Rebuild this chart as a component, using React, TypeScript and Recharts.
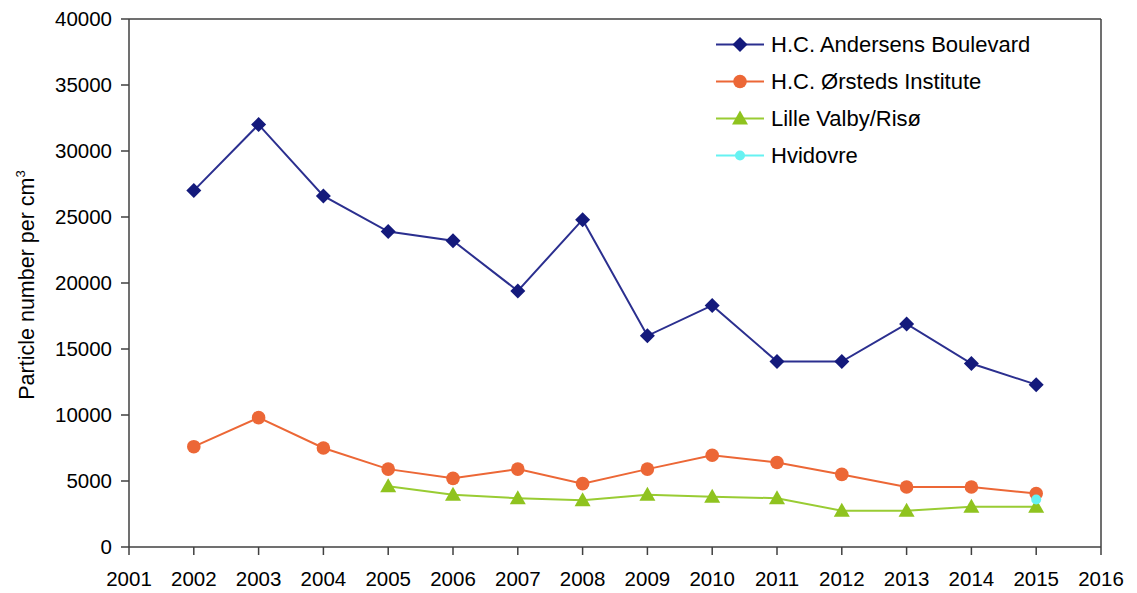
import React from "react";
import {
  Line,
  LineChart,
  ReferenceLine,
  XAxis,
  YAxis,
} from "recharts";

const years = [2002, 2003, 2004, 2005, 2006, 2007, 2008, 2009, 2010, 2011, 2012, 2013, 2014, 2015];

const andersens = [27000, 32000, 26600, 23900, 23200, 19400, 24800, 16000, 18300, 14050, 14050, 16900, 13900, 12300];
const orsteds = [7600, 9800, 7500, 5900, 5200, 5900, 4800, 5900, 6950, 6400, 5500, 4550, 4550, 4050];
const lilleValby = [null, null, null, 4600, 3950, 3700, 3550, 3950, 3800, 3700, 2750, 2750, 3050, 3050];
const hvidovre = [null, null, null, null, null, null, null, null, null, null, null, null, null, 3600];

const xTicks = [2001, 2002, 2003, 2004, 2005, 2006, 2007, 2008, 2009, 2010, 2011, 2012, 2013, 2014, 2015, 2016];
const yTicks = [0, 5000, 10000, 15000, 20000, 25000, 30000, 35000, 40000];

const data = years.map((year, i) => ({
  year,
  andersens: andersens[i],
  orsteds: orsteds[i],
  lilleValby: lilleValby[i],
  hvidovre: hvidovre[i],
}));

const FONT = '"Liberation Sans", Arial, Helvetica, sans-serif';
const AXIS = "#404040";

const BLUE_LINE = "#2b2f8f";
const BLUE_DOT = "#141a7c";
const ORANGE = "#ec6736";
const GREEN_LINE = "#99cc33";
const GREEN_DOT = "#8fc31f";
const CYAN = "#66f2f2";

type DotProps = { cx?: number; cy?: number; index?: number; value?: unknown };

const hasPoint = (p: DotProps) => p.cx != null && p.cy != null && p.value != null && !Number.isNaN(p.cy);

const Diamond = (p: DotProps) => {
  if (!hasPoint(p)) return <g key={`dm-${p.index}`} />;
  const { cx = 0, cy = 0 } = p;
  const r = 7.5;
  return (
    <polygon
      key={`dm-${p.index}`}
      points={`${cx},${cy - r} ${cx + r},${cy} ${cx},${cy + r} ${cx - r},${cy}`}
      fill={BLUE_DOT}
    />
  );
};

const Circle = (p: DotProps) => {
  if (!hasPoint(p)) return <g key={`ci-${p.index}`} />;
  return <circle key={`ci-${p.index}`} cx={p.cx} cy={p.cy} r={6.8} fill={ORANGE} />;
};

const Triangle = (p: DotProps) => {
  if (!hasPoint(p)) return <g key={`tr-${p.index}`} />;
  const { cx = 0, cy = 0 } = p;
  return (
    <polygon
      key={`tr-${p.index}`}
      points={`${cx},${cy - 8} ${cx + 8},${cy + 6} ${cx - 8},${cy + 6}`}
      fill={GREEN_DOT}
    />
  );
};

const SmallCircle = (p: DotProps) => {
  if (!hasPoint(p)) return <g key={`sc-${p.index}`} />;
  return <circle key={`sc-${p.index}`} cx={p.cx} cy={p.cy} r={5} fill={CYAN} />;
};

const legendItems = [
  { name: "H.C. Andersens Boulevard", color: BLUE_LINE, marker: "diamond" },
  { name: "H.C. Ørsteds Institute", color: ORANGE, marker: "circle" },
  { name: "Lille Valby/Risø", color: GREEN_LINE, marker: "triangle" },
  { name: "Hvidovre", color: CYAN, marker: "small" },
];

function LegendMarker({ marker }: { marker: string }) {
  if (marker === "diamond") return <polygon points="24,3 31.5,10.5 24,18 16.5,10.5" fill={BLUE_DOT} />;
  if (marker === "circle") return <circle cx={24} cy={10.5} r={6.8} fill={ORANGE} />;
  if (marker === "triangle") return <polygon points="24,2.5 32,16.5 16,16.5" fill={GREEN_DOT} />;
  return <circle cx={24} cy={10.5} r={5} fill={CYAN} />;
}

// legend sits inside the plot box, top right
function ChartLegend() {
  return (
    <div
      style={{
        position: "absolute",
        left: 716,
        top: 26,
        fontFamily: FONT,
        fontSize: 22,
        color: "#000",
      }}
    >
      {legendItems.map((item) => (
        <div key={item.name} style={{ display: "flex", alignItems: "center", height: 37 }}>
          <svg width={55} height={21} style={{ flexShrink: 0 }}>
            <line x1={0} y1={10.5} x2={48} y2={10.5} stroke={item.color} strokeWidth={2} />
            <LegendMarker marker={item.marker} />
          </svg>
          <span style={{ whiteSpace: "nowrap" }}>{item.name}</span>
        </div>
      ))}
    </div>
  );
}

function YLabel() {
  return (
    <text
      x={0}
      y={0}
      transform="translate(34, 285) rotate(-90)"
      textAnchor="middle"
      fontFamily={FONT}
      fontSize={21.5}
      fill="#000"
    >
      Particle number per cm
      <tspan dy={-9} fontSize={13}>3</tspan>
    </text>
  );
}

export default function App() {
  return (
    <div style={{ position: "absolute", left: 0, top: 0, width: 1137, height: 593, background: "#fff" }}>
      <LineChart
        width={1137}
        height={593}
        data={data}
        margin={{ top: 19, right: 36, bottom: 0, left: 0 }}
      >
        <XAxis
          dataKey="year"
          type="number"
          domain={[2001, 2016]}
          ticks={xTicks}
          interval={0}
          height={46}
          tickSize={8}
          tickMargin={16}
          stroke={AXIS}
          strokeWidth={1.5}
          tick={{ fill: "#000", fontSize: 20.5, fontFamily: FONT }}
        />
        <YAxis
          type="number"
          domain={[0, 40000]}
          ticks={yTicks}
          interval={0}
          width={129}
          tickSize={8}
          tickMargin={9}
          stroke={AXIS}
          strokeWidth={1.5}
          tick={{ fill: "#000", fontSize: 20.5, fontFamily: FONT }}
          label={<YLabel />}
        />
        <ReferenceLine y={40000} stroke={AXIS} strokeWidth={1.5} ifOverflow="visible" />
        <ReferenceLine x={2016} stroke={AXIS} strokeWidth={1.5} ifOverflow="visible" />
        <Line
          dataKey="andersens"
          name="H.C. Andersens Boulevard"
          stroke={BLUE_LINE}
          strokeWidth={2}
          dot={Diamond}
          activeDot={false}
          isAnimationActive={false}
        />
        <Line
          dataKey="orsteds"
          name="H.C. Ørsteds Institute"
          stroke={ORANGE}
          strokeWidth={2}
          dot={Circle}
          activeDot={false}
          isAnimationActive={false}
        />
        <Line
          dataKey="lilleValby"
          name="Lille Valby/Risø"
          stroke={GREEN_LINE}
          strokeWidth={2}
          dot={Triangle}
          activeDot={false}
          isAnimationActive={false}
        />
        <Line
          dataKey="hvidovre"
          name="Hvidovre"
          stroke={CYAN}
          strokeWidth={2}
          dot={SmallCircle}
          activeDot={false}
          isAnimationActive={false}
        />
      </LineChart>
      <ChartLegend />
    </div>
  );
}
